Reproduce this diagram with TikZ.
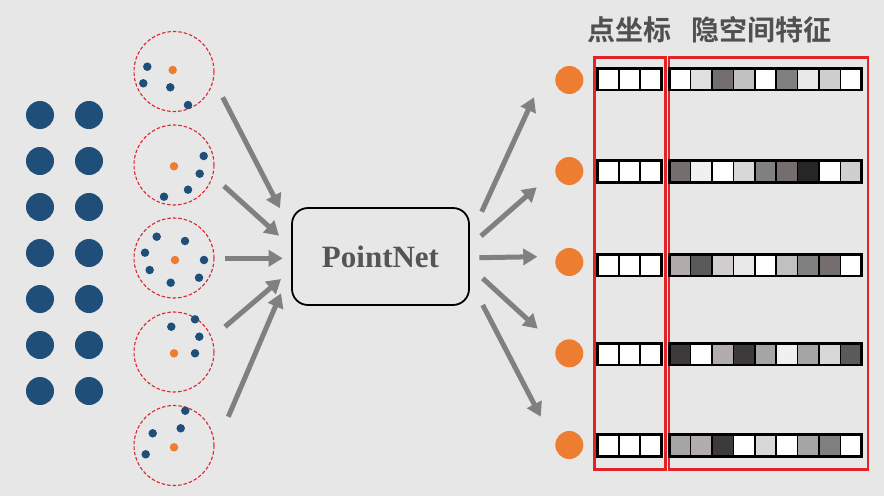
\documentclass[tikz,border=0pt]{standalone}
\usepackage{fontspec}
\setmainfont{Liberation Serif}
\newfontfamily\cjk{Noto Sans CJK SC}[BoldFont={Noto Sans CJK SC Bold}]
\usetikzlibrary{arrows.meta}
\definecolor{bg}{RGB}{231,231,231}
\definecolor{dotblue}{RGB}{31,78,121}
\definecolor{dotorange}{RGB}{237,125,49}
\definecolor{ringred}{RGB}{222,36,46}
\definecolor{boxred}{RGB}{226,35,40}
\definecolor{arrowgray}{RGB}{128,128,128}
\definecolor{titlegray}{RGB}{80,80,80}
\definecolor{pngray}{RGB}{85,85,85}
\definecolor{c240}{RGB}{240,240,240}
\definecolor{c232}{RGB}{232,232,232}
\definecolor{c224}{RGB}{224,224,224}
\definecolor{c218}{RGB}{216,216,216}
\definecolor{c208}{RGB}{208,206,206}
\definecolor{c192}{RGB}{192,192,192}
\definecolor{c178}{RGB}{178,172,172}
\definecolor{c165}{RGB}{165,165,165}
\definecolor{c128}{RGB}{128,128,128}
\definecolor{c117}{RGB}{117,110,110}
\definecolor{c90}{RGB}{90,90,90}
\definecolor{c60}{RGB}{60,58,58}
\definecolor{c38}{RGB}{38,38,38}
\tikzset{
  bigdot/.style={circle, fill=dotblue, minimum size=28pt, inner sep=0pt},
  smalldot/.style={circle, fill=dotblue, minimum size=8.5pt, inner sep=0pt},
  centerdot/.style={circle, fill=dotorange, minimum size=8.5pt, inner sep=0pt},
  outdot/.style={circle, fill=dotorange, minimum size=28pt, inner sep=0pt},
  ring/.style={circle, draw=ringred, line width=1.1pt, dash pattern=on 3.5pt off 2pt, minimum size=80pt, inner sep=0pt},
  fatarrow/.style={draw=arrowgray, line width=5pt, -{Triangle[length=14pt,width=16pt]}},
  redframe/.style={draw=boxred, line width=2.6pt, minimum width=#1, minimum height=412pt, inner sep=0pt, anchor=north west},
  cellbox/.style={draw=black, line width=1.6pt},
  cellframe/.style={draw=black, line width=2.6pt},
  titletext/.style={text=titlegray, font=\cjk\bfseries\fontsize{28pt}{28pt}\selectfont, inner sep=0pt},
}
\begin{document}
\begin{tikzpicture}[x=1pt,y=-1pt]
\fill[bg] (0,0) rectangle (884,496);
\useasboundingbox (0,0) rectangle (884,496);

% left grid of points
\foreach \r [count=\k] in {115,161,207,253,299,345,391}{
  \node[bigdot] (pa\k) at (40,\r) {};
  \node[bigdot] (pb\k) at (89,\r) {};
}

% grouping rings
\node[ring] (g1) at (174,71.5) {};
\node[ring] (g2) at (174,165) {};
\node[ring] (g3) at (174,258) {};
\node[ring] (g4) at (174,352) {};
\node[ring] (g5) at (174,445.5) {};

% ring 1
\node[smalldot] (s11) at (147.3,66.7) {};
\node[smalldot] (s12) at (143.3,83.3) {};
\node[smalldot] (s13) at (170.3,87.3) {};
\node[smalldot] (s14) at (188,105) {};
\node[centerdot] (c1) at (172.7,70) {};
% ring 2
\node[smalldot] (s21) at (203.7,156) {};
\node[smalldot] (s22) at (199.7,173.7) {};
\node[smalldot] (s23) at (188,189.7) {};
\node[smalldot] (s24) at (164,196.7) {};
\node[centerdot] (c2) at (174,166.3) {};
% ring 3
\node[smalldot] (s31) at (156.7,236.7) {};
\node[smalldot] (s32) at (185,241) {};
\node[smalldot] (s33) at (145,252.7) {};
\node[smalldot] (s34) at (204,260) {};
\node[smalldot] (s35) at (149.7,270) {};
\node[smalldot] (s36) at (170.7,282.7) {};
\node[smalldot] (s37) at (199,277.7) {};
\node[centerdot] (c3) at (175,260) {};
% ring 4
\node[smalldot] (s41) at (171.3,326.7) {};
\node[smalldot] (s42) at (195,319.3) {};
\node[smalldot] (s43) at (199.3,336.7) {};
\node[smalldot] (s44) at (195,353.3) {};
\node[centerdot] (c4) at (174,353.3) {};
% ring 5
\node[smalldot] (s51) at (185.3,410.7) {};
\node[smalldot] (s52) at (180.7,428.3) {};
\node[smalldot] (s53) at (152.7,433.3) {};
\node[smalldot] (s54) at (145.7,454.3) {};
\node[centerdot] (c5) at (174,447.3) {};

% PointNet box
\node[draw=black, line width=1.8pt, rounded corners=16pt, minimum width=177pt, minimum height=97pt,
      text=pngray, font=\bfseries\fontsize{31pt}{31pt}\selectfont] (pn) at (380.5,256.5) {PointNet};

% input arrows
\coordinate (i1s) at (222.7,97.3);  \coordinate (i1e) at (280,208.3);
\coordinate (i2s) at (224,186);     \coordinate (i2e) at (279,235.7);
\coordinate (i3s) at (225,258.3);   \coordinate (i3e) at (282.7,258.3);
\coordinate (i4s) at (225,326.7);   \coordinate (i4e) at (281,279);
\coordinate (i5s) at (228.3,416.7); \coordinate (i5e) at (281,293.3);
\foreach \k in {1,...,5}{ \draw[fatarrow] (i\k s) -- (i\k e); }

% output arrows
\coordinate (o1s) at (481.7,211.7); \coordinate (o1e) at (534,97.3);
\coordinate (o2s) at (481,236);     \coordinate (o2e) at (536.7,187.3);
\coordinate (o3s) at (479.3,257.7); \coordinate (o3e) at (537.3,256.7);
\coordinate (o4s) at (482.7,278.3); \coordinate (o4e) at (537.7,328.7);
\coordinate (o5s) at (482.7,305);   \coordinate (o5e) at (540.7,416.7);
\foreach \k in {1,...,5}{ \draw[fatarrow] (o\k s) -- (o\k e); }

% output points
\node[outdot] (q1) at (569.3,80) {};
\node[outdot] (q2) at (569.3,171) {};
\node[outdot] (q3) at (569.3,262) {};
\node[outdot] (q4) at (569.3,353.3) {};
\node[outdot] (q5) at (569.3,445) {};

% titles
\node[titletext] (t1) at (629.5,30) {点坐标};
\node[titletext] (t2) at (761,30) {隐空间特征};

% red frames
\node[redframe=71pt] (fxyz) at (593,56) {};
\node[redframe=199pt] (ffeat) at (667.8,56) {};

% feature cells
\foreach \yc/\row in {79/{white,c224,c117,c192,white,c128,c232,c208,white},
                      171.5/{c117,c240,white,c218,c128,c117,c38,white,c208},
                      265/{c178,c90,c208,c232,white,c192,c128,c117,white},
                      354/{c60,white,c178,c60,c165,c240,c165,c218,c90},
                      445.5/{c165,c178,c60,white,c218,white,c165,c128,white}}{
  \foreach \k in {0,1,2}{
    \draw[cellbox, fill=white] ({597.3+\k*21.47},{\yc-10.8}) rectangle ++(21.47,21.6);
  }
  \draw[cellframe] (597.3,{\yc-10.8}) rectangle ++(64.4,21.6);
  \foreach \cc [count=\k from 0] in \row {
    \draw[cellbox, fill=\cc] ({669.3+\k*21.38},{\yc-10.8}) rectangle ++(21.38,21.6);
  }
  \draw[cellframe] (669.3,{\yc-10.8}) rectangle ++(192.4,21.6);
}
\end{tikzpicture}
\end{document}
